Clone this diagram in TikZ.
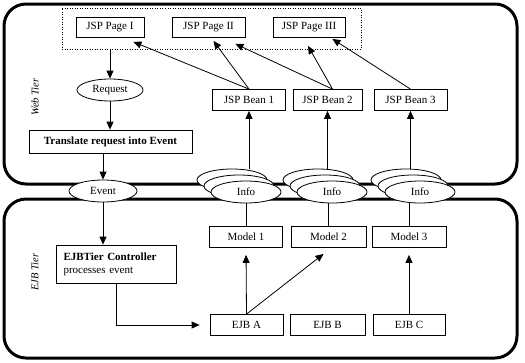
\documentclass[tikz,border=0pt]{standalone}
\usepackage{fontspec}
\setmainfont{Liberation Serif}
\usetikzlibrary{shapes.geometric,arrows.meta}

\begin{document}
\begin{tikzpicture}[x=1pt,y=-1pt,
  tier/.style={draw,line width=3pt,rounded corners=22pt},
  box/.style={draw,line width=0.8pt,minimum width=73pt,minimum height=21pt,inner sep=2pt},
  oval/.style={draw,ellipse,fill=white,line width=0.8pt,minimum width=70pt,minimum height=22pt,inner sep=0pt},
  link/.style={draw,line width=0.8pt,-{Triangle[length=8pt,width=7pt]}},
  every node/.style={font=\fontsize{11}{13}\selectfont}]
\useasboundingbox (0,0) rectangle (525,362);

% the two tiers
\path[tier] (4,4) rectangle (517,184);
\path[tier] (4,199) rectangle (517,358);
\node[rotate=90,font=\itshape\fontsize{10.5}{12}\selectfont] (webtier) at (35,97) {Web Tier};
\node[rotate=90,font=\itshape\fontsize{10.5}{12}\selectfont] (ejbtier) at (35,272) {EJB Tier};

% pages
\node[draw,line width=1pt,dash pattern=on 1pt off 1.5pt,minimum width=299pt,minimum height=41pt] (pages) at (211.5,28.5) {};
\node[box,minimum width=68pt,minimum height=20pt] (page1) at (110,27.5) {JSP Page I};
\node[box,minimum height=20pt] (page2) at (208.5,27.5) {JSP Page II};
\node[box,minimum width=72pt,minimum height=20pt] (page3) at (309,27.5) {JSP Page III};

% web tier flow
\node[oval,minimum width=66pt] (request) at (110,90) {Request};
\node[box,font=\bfseries\fontsize{11}{13}\selectfont,minimum width=163pt,minimum height=23pt] (translate) at (110.5,141.5) {Translate request into Event};
\node[box] (bean1) at (249,100) {JSP Bean 1};
\node[box,minimum width=69pt] (bean2) at (327.5,100) {JSP Bean 2};
\node[box] (bean3) at (410.5,100) {JSP Bean 3};

% stacked info ovals
\node[oval] (info1c) at (232,180) {};
\node[oval] (info1b) at (239,186) {};
\node[oval] (info1) at (246,192) {Info};
\node[oval] (info2c) at (318,180) {};
\node[oval] (info2b) at (325,186) {};
\node[oval] (info2) at (332,192) {Info};
\node[oval] (info3c) at (406,180) {};
\node[oval] (info3b) at (413,186) {};
\node[oval] (info3) at (420,192) {Info};
\node[oval,minimum width=68pt] (event) at (103,191) {Event};

% ejb tier
\node[box,text width=106pt,inner xsep=7pt,minimum height=38pt,align=left] (controller) at (116.5,264) {\textbf{EJBTier Controller}\\processes event};
\node[box] (model1) at (246,237) {Model 1};
\node[box,minimum width=75pt] (model2) at (328.5,237) {Model 2};
\node[box,minimum width=74pt] (model3) at (409,237) {Model 3};
\node[box] (ejbA) at (246.5,325) {EJB A};
\node[box,minimum width=75pt] (ejbB) at (327.5,325) {EJB B};
\node[box,minimum width=72pt] (ejbC) at (409,325) {EJB C};

\path[link] (request.north |- pages.south) -- (request.north);
\path[link] (request.south) -- (request.south |- translate.north);
\path[link] (event.north |- translate.south) -- (event.north);
\path[link] (event.south) -- (event.south |- controller.north);
\path[link,shorten >=10pt] (controller.south) |- (ejbA.west);

\path[link] (bean1.north) -- ([shift={(-11,4)}]page1.south east);
\path[link] (bean1.north) -- ([shift={(5,3)}]page2.south);
\path[link] ([xshift=5pt]bean2.north) -- ([shift={(-10,6)}]page2.south east);
\path[link] ([xshift=5pt]bean2.north) -- ([shift={(-1,8)}]page3.south);
\path[link] (bean3.north) -- ([shift={(-13,1)}]page3.south east);

\path[link] (bean1.south |- info1c.north) -- (bean1.south);
\path[link] (bean2.south |- info2c.north) -- (bean2.south);
\path[link] (bean3.south |- info3c.north) -- (bean3.south);
\path[draw,line width=0.8pt] (model1.north) -- (model1.north |- info1.south);
\path[draw,line width=0.8pt] (model2.north) -- (model2.north |- info2.south);
\path[draw,line width=0.8pt] (model3.north) -- (model3.north |- info3.south);

\path[link,shorten >=7pt] (ejbA.north) -- (model1.south);
\path[link] (ejbA.north) -- ([shift={(-5,6)}]model2.south);
\path[link,shorten >=7pt] (ejbC.north) -- (model3.south);
\end{tikzpicture}
\end{document}
